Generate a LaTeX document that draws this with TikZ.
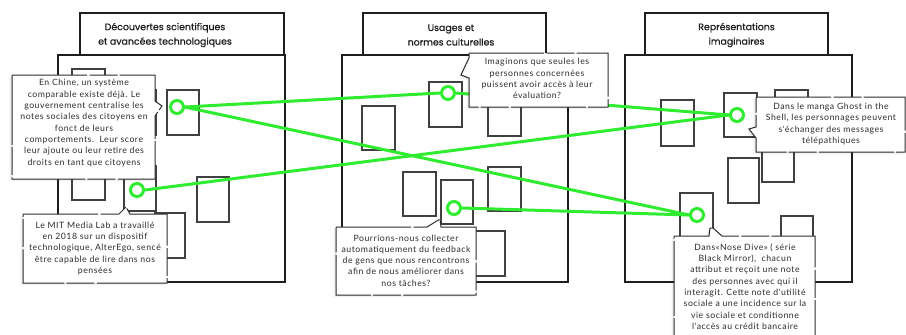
\documentclass[tikz,border=0pt]{standalone}
\usepackage{fontspec}
\setmainfont{Lato}
\newfontfamily\titlefont{Poppins}[FakeBold=0.6]
\newfontfamily\notefont{Lato}[LetterSpace=6]

\definecolor{linkgreen}{RGB}{48,236,48}
\definecolor{ink}{RGB}{30,30,30}
\definecolor{noteink}{RGB}{45,45,45}

\pgfdeclarelayer{back}
\pgfdeclarelayer{mid}
\pgfsetlayers{back,mid,main}

\tikzset{
  panel/.style={draw=ink, line width=1.2pt, fill=white},
  heading/.style={draw=ink, line width=1.2pt, fill=white},
  card/.style={draw=ink!85, line width=1.1pt},
  bubble/.style={draw=noteink, line width=1pt, fill=white, line join=miter,
    dash pattern=on 75pt off 2.5pt on 28pt off 2pt,
    preaction={draw=none, fill=black, opacity=0.05,
      transform canvas={shift={(-2.5pt,-2pt)}}},
    preaction={draw=none, fill=black, opacity=0.06,
      transform canvas={shift={(-1.2pt,-1pt)}}}},
  notetext/.style={align=center, font=\notefont\fontsize{8.7}{11.3}\selectfont,
    text=noteink, inner sep=0pt},
  titletext/.style={align=center, font=\titlefont\fontsize{9.4}{14.5}\selectfont,
    text=ink, inner sep=0pt},
  hub/.style={circle, draw=linkgreen, line width=3pt, fill=white,
    minimum size=13pt, inner sep=0pt},
  link/.style={draw=linkgreen, line width=3pt},
}

\begin{document}
\begin{tikzpicture}[x=1pt, y=-1pt]
\useasboundingbox (0,0) rectangle (906,335);

\begin{pgfonlayer}{back}
  \fill[white] (0,0) rectangle (906,335);
  % three panels with their heading boxes
  \draw[panel] (58,55) rectangle (285,282);
  \draw[heading] (80,13) rectangle (284,55);
  \draw[panel] (342,55) rectangle (568,282);
  \draw[heading] (363,13) rectangle (546,55);
  \draw[panel] (625,55) rectangle (852,282);
  \draw[heading] (645,13) rectangle (828,55);

  % cards, panel 1
  \draw[card] (72,69) rectangle (105,114);
  \draw[card] (72,155) rectangle (105,200);
  \draw[card] (124,90) rectangle (156,135);
  \draw[card] (124,166) rectangle (156,211);
  \draw[card] (167,90) rectangle (199,135);
  \draw[card] (197,177) rectangle (229,222);
  \draw[card] (155,213) rectangle (185,258);
  % cards, panel 2
  \draw[card] (429,82) rectangle (462,127);
  \draw[card] (362,106) rectangle (395,150);
  \draw[card] (488,91) rectangle (521,136);
  \draw[card] (488,167) rectangle (521,211);
  \draw[card] (403,172) rectangle (436,216);
  \draw[card] (441,180) rectangle (473,224);
  \draw[card] (473,231) rectangle (505,276);
  % cards, panel 3
  \draw[card] (661,100) rectangle (694,146);
  \draw[card] (724,93) rectangle (757,137);
  \draw[card] (775,90) rectangle (808,135);
  \draw[card] (728,158) rectangle (759,203);
  \draw[card] (762,137) rectangle (794,182);
  \draw[card] (680,193) rectangle (713,238);
  \draw[card] (781,216) rectangle (813,261);
\end{pgfonlayer}

% headings
\node[titletext] (t1) at (165,35) {Découvertes scientifiques\\et avancées technologiques};
\node[titletext] (t2) at (451,35) {Usages et\\normes culturelles};
\node[titletext] (t3) at (736.5,35) {Représentations\\imaginaires};

% green hubs
\node[hub] (c1) at (177,107) {};
\node[hub] (c2) at (137,190) {};
\node[hub] (c3) at (448,93) {};
\node[hub] (c4) at (454,208) {};
\node[hub] (c5) at (737,115) {};
\node[hub] (c6) at (697,215) {};

\begin{pgfonlayer}{mid}
  \draw[link] (c1.east) -- (c3.west);
  \draw[link] (c3.east) -- (c5.west);
  \draw[link] (c1.east) -- (c6.west);
  \draw[link] (c2.east) -- (c5.west);
  \draw[link] (c4.east) -- (c6.west);
\end{pgfonlayer}

% speech bubbles
\path[bubble] (12,75) -- (155,75) -- (155,101) -- (162,106) -- (155,116)
  -- (155,179) -- (12,179) -- cycle;
\node[notetext] (n1) at (84,123) {En Chine, un système\\comparable existe déjà. Le\\gouvernement centralise les\\notes sociales des citoyens en\\fonct de leurs\\comportements.\ \ Leur score\\leur ajoute ou leur retire des\\droits en tant que citoyens};

\path[bubble] (23,214) -- (119,214) -- (126,207) -- (130,214) -- (167,214)
  -- (167,283) -- (23,283) -- cycle;
\node[notetext] (n2) at (95,248.5) {Le MIT Media Lab a travaillé\\en 2018 sur un dispositif\\technologique, AlterEgo, sencé\\être capable de lire dans nos\\pensées};

\path[bubble] (469,53) -- (608,53) -- (608,107) -- (469,107) -- (469,78)
  -- (461,75) -- (469,58) -- cycle;
\node[notetext] (n3) at (537,78.5) {Imaginons que seules les\\personnes concernées\\puissent avoir accès à leur\\évaluation?};

\path[bubble] (336,227) -- (427,227) -- (440,219) -- (441,227) -- (476,227)
  -- (476,295) -- (336,295) -- cycle;
\node[notetext] (n4) at (406,260.5) {Pourrions-nous collecter\\automatiquement du feedback\\de gens que nous rencontrons\\afin de nous améliorer dans\\nos tâches?};

\path[bubble] (756,97) -- (905,97) -- (905,152) -- (756,152) -- (756,138)
  -- (749,129) -- (756,127) -- cycle;
\node[notetext] (n5) at (831,124) {Dans le manga Ghost in the\\Shell, les personnages peuvent\\s'échanger des messages\\télépathiques};

\path[bubble] (674,236) -- (709,236) -- (710,228) -- (713,228) -- (722,236)
  -- (815,236) -- (815,345) -- (674,345) -- cycle;
\node[notetext] (n6) at (745,286.5) {Dans«Nose Dive» ( série\\Black Mirror),\ \ chacun\\attribut et reçoit une note\\des personnes avec qui il\\interagit. Cette note d'utilité\\sociale a une incidence sur la\\vie sociale et conditionne\\l'accès au crédit bancaire};
\end{tikzpicture}
\end{document}
